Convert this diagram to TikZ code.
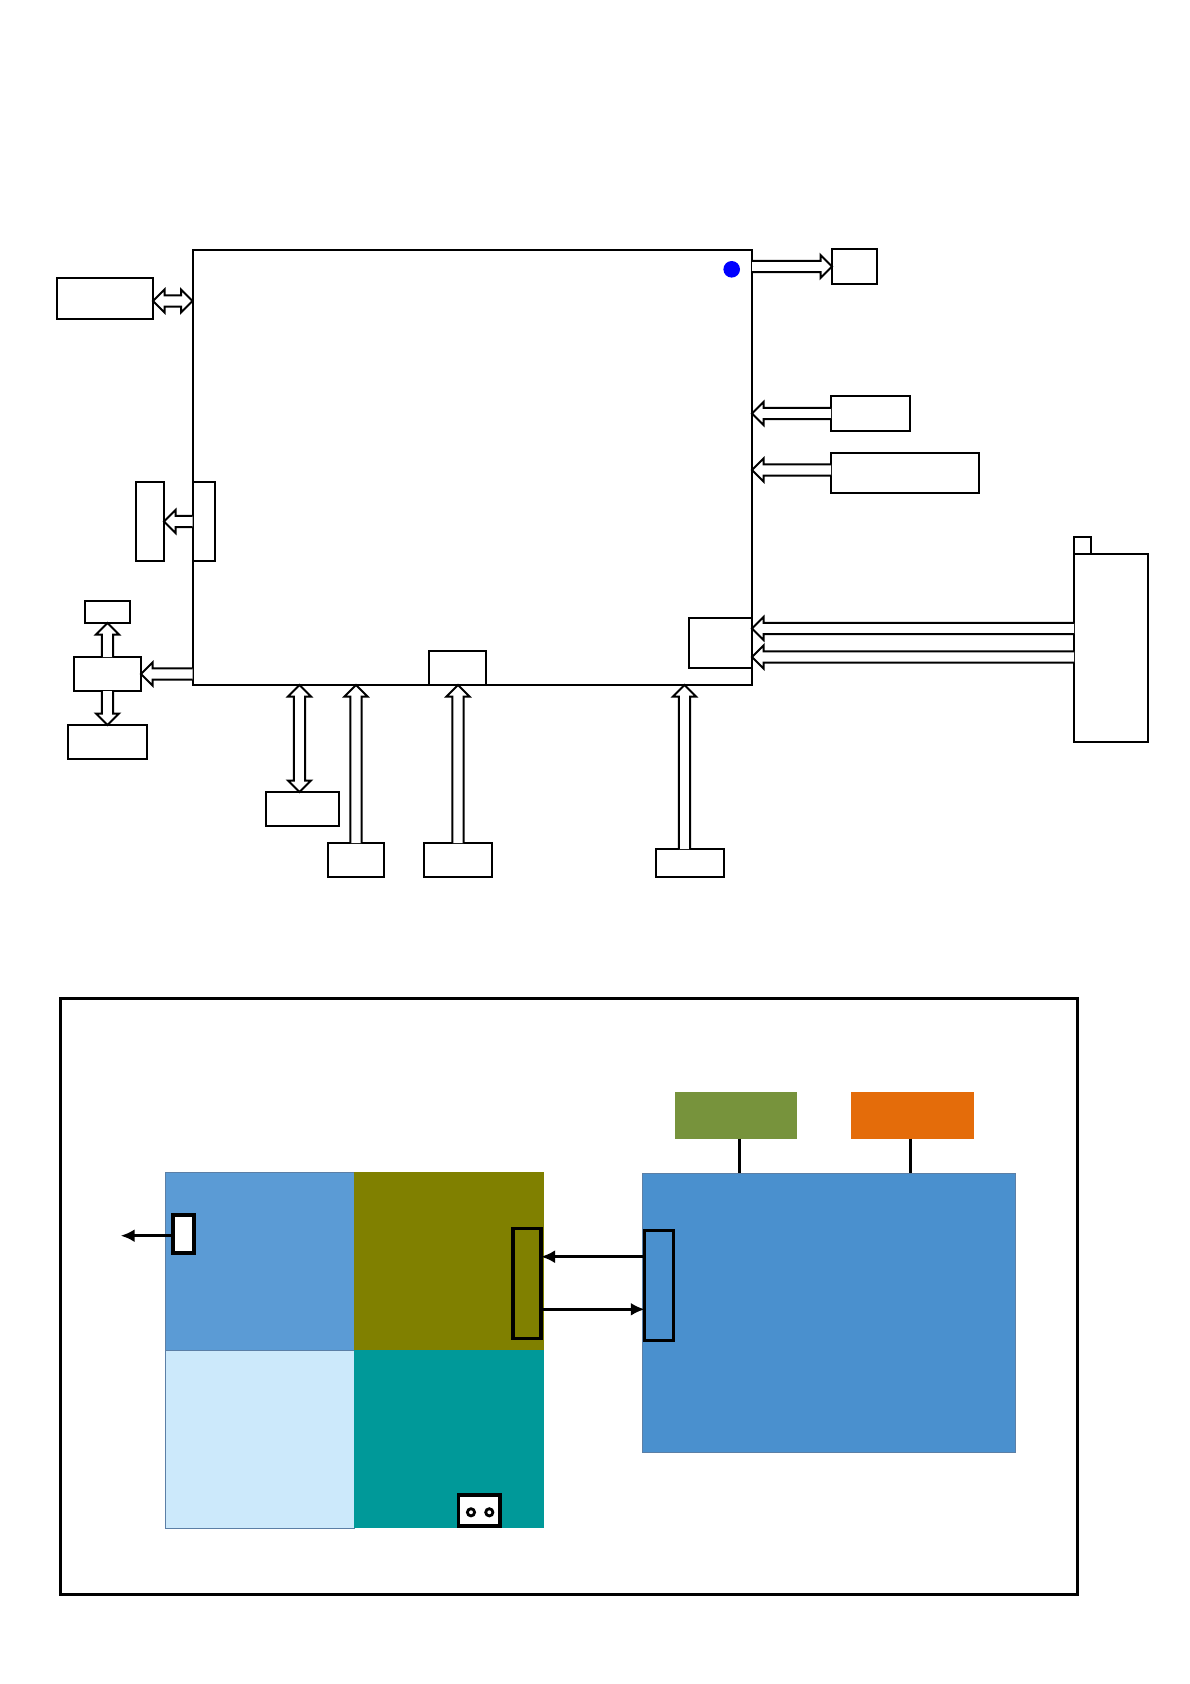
\documentclass[tikz,border=0pt]{standalone}
\usetikzlibrary{calc,arrows.meta}
\definecolor{dotblue}{RGB}{0,0,255}
\definecolor{tlblue}{HTML}{5B9BD5}
\definecolor{olivec}{HTML}{808000}
\definecolor{lightb}{HTML}{CCE9FB}
\definecolor{tealc}{HTML}{009999}
\definecolor{rblue}{HTML}{4A90CE}
\definecolor{greenc}{HTML}{77933C}
\definecolor{orangec}{HTML}{E46C0A}
\definecolor{edgec}{HTML}{5B7FA6}
\tikzset{
  bx/.style={draw=black, line width=2pt, inner sep=0pt, outer sep=0pt, fill=white},
  fatline/.style={draw=black, line width=2pt, fill=white, line join=miter},
  cblock/.style={inner sep=0pt, outer sep=0pt},
  conn/.style={draw=black, line width=3.4pt, inner sep=0pt, outer sep=0pt},
  thinarrow/.style={line width=3pt, -{Latex[length=14pt 0,width=13pt 0]}},
}
\newcommand{\fatarrow}[2]{%
  \coordinate (fa-h) at ($(#2)!11.5pt!(#1)$);
  \draw[fatline] ($(#1)!5.7pt!90:(#2)$) -- ($(fa-h)!5.7pt!90:(#2)$) -- ($(fa-h)!11.5pt!90:(#2)$) -- (#2) -- ($(fa-h)!11.5pt!-90:(#2)$) -- ($(fa-h)!5.7pt!-90:(#2)$) -- ($(#1)!5.7pt!-90:(#2)$);}
\newcommand{\fatdarrow}[2]{%
  \coordinate (fa-h) at ($(#2)!11.5pt!(#1)$);
  \coordinate (fa-t) at ($(#1)!11.5pt!(#2)$);
  \draw[fatline] (#1) -- ($(fa-t)!11.5pt!90:(#2)$) -- ($(fa-t)!5.7pt!90:(#2)$) -- ($(fa-h)!5.7pt!90:(#2)$) -- ($(fa-h)!11.5pt!90:(#2)$) -- (#2) -- ($(fa-h)!11.5pt!-90:(#2)$) -- ($(fa-h)!5.7pt!-90:(#2)$) -- ($(fa-t)!5.7pt!-90:(#2)$) -- ($(fa-t)!11.5pt!-90:(#2)$) -- cycle;}
\begin{document}
\begin{tikzpicture}[x=1pt,y=-1pt]
\useasboundingbox (0,0) rectangle (1190,1684);
% ---------- top diagram ----------
\node[bx, minimum width=559.5pt, minimum height=435pt] (main) at (472.25,467.5) {};
\fill[dotblue] (731.7,269.3) circle (8.3pt);
\node[bx, minimum width=22.5pt, minimum height=79pt] (sl) at (203.75,521.5) {};
\node[bx, minimum width=57pt, minimum height=34pt] (bin) at (457.5,668) {};
\node[bx, minimum width=63pt, minimum height=50.5pt] (rin) at (720.5,642.75) {};

\node[bx, minimum width=96pt, minimum height=41pt] (lbox) at (105,298) {};
\node[bx, minimum width=45pt, minimum height=35pt] (tr) at (854.5,266.5) {};
\node[bx, minimum width=79pt, minimum height=35pt] (r1) at (870.5,413.5) {};
\node[bx, minimum width=148pt, minimum height=40pt] (r2) at (905,473) {};
\node[bx, minimum width=28pt, minimum height=79pt] (tl) at (150,521.5) {};
\node[bx, minimum width=45pt, minimum height=22pt] (ts) at (107.5,612) {};
\node[bx, minimum width=67pt, minimum height=34pt] (mid) at (107.5,674) {};
\node[bx, minimum width=79pt, minimum height=34pt] (bb) at (107.5,742) {};
\node[bx, minimum width=74pt, minimum height=188pt] (rt) at (1111,648) {};
\node[bx, minimum width=17pt, minimum height=17pt] (rts) at (1082.5,545.5) {};
\node[bx, minimum width=73pt, minimum height=34pt] (b1) at (302.5,809) {};
\node[bx, minimum width=56pt, minimum height=34pt] (b2) at (356,860) {};
\node[bx, minimum width=68pt, minimum height=34pt] (b3) at (458,860) {};
\node[bx, minimum width=68pt, minimum height=28pt] (b4) at (690,863) {};

% connector end points
\coordinate (c1a) at ($(lbox.east)+(0,3)$);
\coordinate (c1b) at (main.west |- c1a);
\coordinate (c2a) at (main.east |- tr.west);
\coordinate (c3b) at (main.east |- r1.west);
\coordinate (c4a) at ($(r2.west)+(0,-3)$);
\coordinate (c4b) at (main.east |- c4a);
\coordinate (c6a) at (main.west |- mid.east);
\coordinate (c9a) at ($(rt.west)+(0,-19.5)$);
\coordinate (c9b) at (main.east |- c9a);
\coordinate (c10a) at ($(rt.west)+(0,9)$);
\coordinate (c10b) at (main.east |- c10a);
\coordinate (d1a) at ($(b1.north)+(-3,0)$);
\coordinate (d1b) at (main.south -| d1a);
\coordinate (d2b) at (main.south -| b2.north);
\coordinate (d3b) at (main.south -| b3.north);
\coordinate (d4a) at ($(b4.north)+(-5.5,0)$);
\coordinate (d4b) at (main.south -| d4a);

\fatdarrow{c1a}{c1b}
\fatarrow{c2a}{tr.west}
\fatarrow{r1.west}{c3b}
\fatarrow{c4a}{c4b}
\fatarrow{sl.west}{tl.east}
\fatarrow{c6a}{mid.east}
\fatarrow{mid.north}{ts.south}
\fatarrow{mid.south}{bb.north}
\fatarrow{c9a}{c9b}
\fatarrow{c10a}{c10b}
\fatdarrow{d1a}{d1b}
\fatarrow{b2.north}{d2b}
\fatarrow{b3.north}{d3b}
\fatarrow{d4a}{d4b}

% ---------- bottom panel ----------
\node[draw=black, line width=3pt, inner sep=0pt, outer sep=0pt, minimum width=1017pt, minimum height=596.5pt] (frame) at (568.5,1296.25) {};

\node[cblock, fill=tlblue, draw=edgec, line width=0.9pt, minimum width=188.5pt, minimum height=178pt] (q1) at (259.75,1261) {};
\node[cblock, fill=olivec, minimum width=189.5pt, minimum height=178pt] (q2) at (448.75,1261) {};
\node[cblock, fill=lightb, draw=edgec, line width=0.9pt, minimum width=188.5pt, minimum height=178pt] (q3) at (259.75,1439) {};
\node[cblock, fill=tealc, minimum width=189.5pt, minimum height=178pt] (q4) at (448.75,1439) {};

\node[cblock, fill=rblue, draw=edgec, line width=0.9pt, minimum width=373pt, minimum height=279pt] (rb) at (828.5,1312.5) {};
\node[cblock, fill=greenc, minimum width=122.5pt, minimum height=46.5pt] (gr) at (735.75,1115.25) {};
\node[cblock, fill=orangec, minimum width=123.5pt, minimum height=46.5pt] (orr) at (912.25,1115.25) {};
\coordinate (grl) at ($(gr.south)+(3.3,0)$);
\coordinate (orl) at ($(orr.south)+(-1.4,0)$);
\draw[line width=3pt] (grl) -- (grl |- rb.north);
\draw[line width=3pt] (orl) -- (orl |- rb.north);

\node[conn, fill=white, minimum width=21pt, minimum height=38pt] (wc) at (183.5,1234) {};
\coordinate (wtip) at (120.7,1235.7);
\draw[thinarrow] (wc.west |- wtip) -- (wtip);

\node[conn, fill=olivec, minimum width=28pt, minimum height=110pt] (oc) at (527,1283.5) {};
\node[conn, fill=rblue, minimum width=29pt, minimum height=109.5pt] (bc) at (659.25,1285.5) {};
\coordinate (ar1) at ($(bc.west)+(0,-28.8)$);
\coordinate (ar2) at ($(oc.east)+(0,25.8)$);
\draw[thinarrow] (ar1) -- (oc.east |- ar1);
\draw[thinarrow] (ar2) -- (bc.west |- ar2);

\node[conn, fill=white, minimum width=41.5pt, minimum height=31pt] (tc) at (479.25,1510.4) {};
\draw[line width=2.8pt] (471,1512.3) circle (3.6pt);
\draw[line width=2.8pt] (489.3,1512.3) circle (3.6pt);
\end{tikzpicture}
\end{document}
